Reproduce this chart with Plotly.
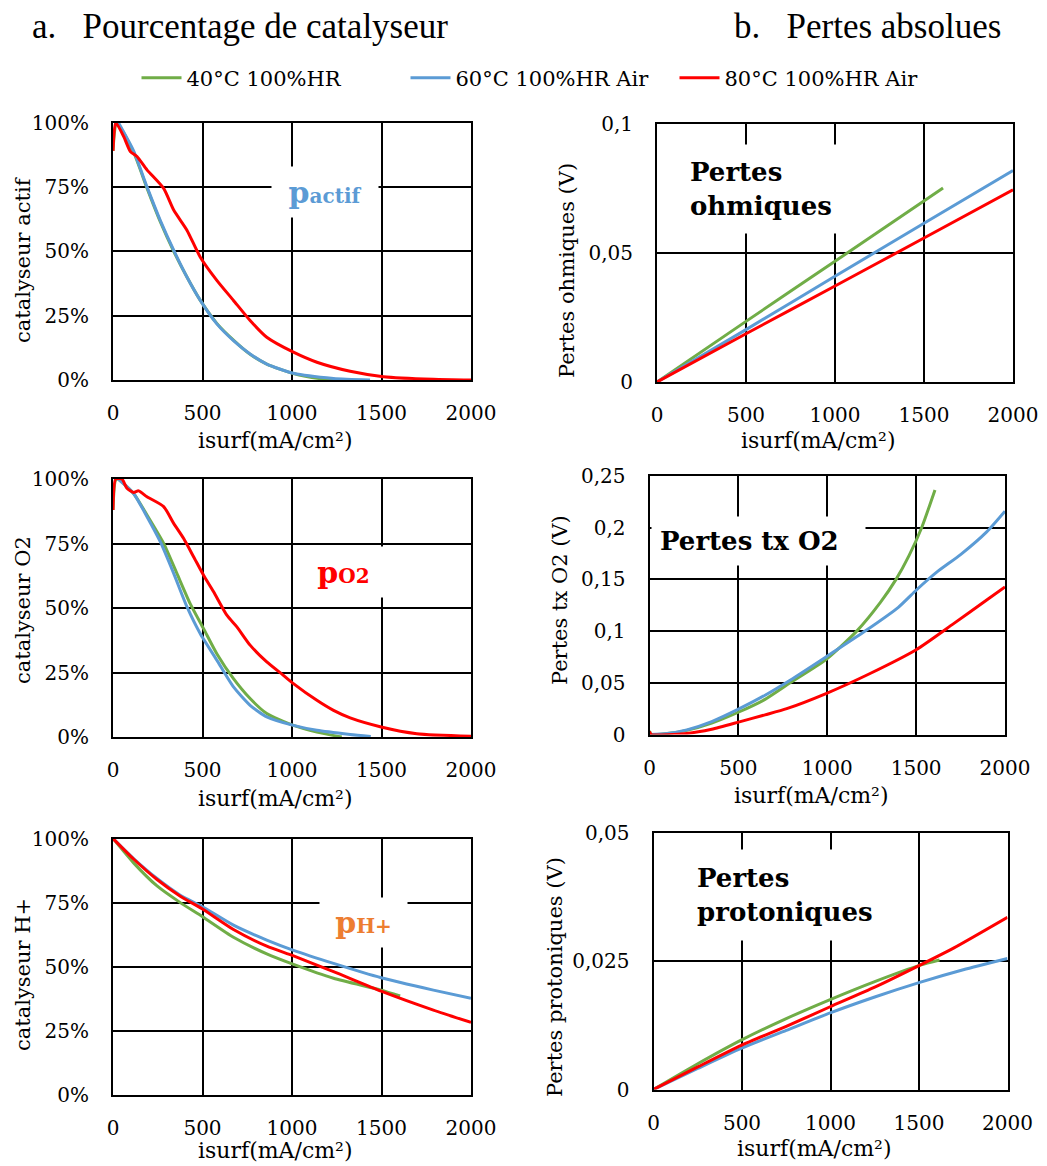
import plotly.graph_objects as go

# The page body keeps an 8px default margin, so the figure is drawn 8px in;
# all pixel positions below are reference-image pixels, converted with that offset.
PAGE_W, PAGE_H = 1047, 1166
OFF = 8
W, H = PAGE_W - OFF, PAGE_H - OFF
FONT = "DejaVu Serif"

# ---------------- data ----------------
series_names = ["40°C 100%HR", "60°C 100%HR Air", "80°C 100%HR Air"]
series_colors = ["#70AD47", "#5B9BD5", "#FF0000"]

# a1 : catalyseur actif (%)
actif_x_40 = [0, 20, 115, 190, 264, 339, 413, 487, 580, 673, 766, 859, 1008, 1150, 1270]
actif_y_40 = [89, 100, 88.5, 74.5, 61.5, 50, 40, 31, 22, 15.5, 10, 6.2, 2.5, 0.6, 0]
actif_x_60 = [30, 115, 190, 264, 339, 413, 487, 580, 673, 766, 859, 1008, 1232, 1436]
actif_y_60 = [100, 89, 75, 62, 50.4, 40, 31, 21.8, 15.3, 10.1, 6.2, 2.6, 0.6, 0]
actif_x_80 = [0, 15, 60, 97, 134, 190, 283, 339, 413, 487, 580, 673, 766, 859, 1008, 1139, 1325, 1511, 1790, 2000]
actif_y_80 = [89, 100, 94.5, 88.7, 86.8, 81.6, 74.4, 66, 58.2, 47.8, 38.7, 30.9, 23.1, 16.6, 10.8, 6.9, 3.4, 1.3, 0.3, 0]

# a2 : catalyseur O2 (%)
o2_x_40 = [0, 20, 115, 190, 283, 357, 431, 506, 580, 673, 766, 859, 1008, 1139, 1278]
o2_y_40 = [88, 100, 94.4, 86, 75, 63.4, 51.7, 42, 32.3, 22.6, 14.9, 9.1, 4.5, 1.9, 0]
o2_x_60 = [30, 115, 190, 264, 339, 413, 487, 580, 673, 766, 859, 1008, 1139, 1325, 1440]
o2_y_60 = [100, 94.4, 85.4, 75.7, 63.4, 50.5, 40.1, 29.8, 19.4, 12.3, 7.8, 4.5, 2.6, 1.0, 0.2]
o2_x_80 = [0, 15, 50, 78, 115, 143, 190, 283, 339, 394, 450, 506, 562, 636, 692, 766, 859, 952, 1008, 1139, 1232, 1325, 1498, 1697, 2000]
o2_y_80 = [88, 100, 100, 96.4, 94.8, 95.4, 93.1, 89.3, 82.8, 77, 69.9, 62.7, 56.3, 47.2, 42.7, 35.6, 29.1, 23.9, 20.7, 14.2, 10.3, 7.4, 3.9, 1.3, 0.3]

# a3 : catalyseur H+ (%)
h_x_40 = [0, 115, 246, 376, 500, 673, 859, 1005, 1232, 1498, 1604]
h_y_40 = [100, 90.5, 81.5, 75, 69.5, 61.5, 55, 51, 45.5, 40.9, 38.6]
h_x_60 = [0, 115, 246, 376, 500, 673, 859, 1005, 1232, 1498, 1790, 2000]
h_y_60 = [100, 92.2, 84.4, 77.9, 73.4, 66.2, 60.4, 56.5, 51.3, 45.7, 40.9, 37.7]
h_x_80 = [0, 115, 246, 376, 500, 673, 859, 1005, 1232, 1498, 1790, 2000]
h_y_80 = [100, 92, 84, 77.5, 72.5, 64.5, 58, 54.3, 48.1, 40.5, 33.1, 28.3]

# b1 : pertes ohmiques (V)
ohm_x_40 = [0, 500, 1000, 1607]
ohm_y_40 = [0, 0.0235, 0.0468, 0.0752]
ohm_x_60 = [0, 500, 1000, 1500, 2000]
ohm_y_60 = [0, 0.0203, 0.041, 0.0615, 0.082]
ohm_x_80 = [0, 500, 1000, 1500, 2000]
ohm_y_80 = [0, 0.0187, 0.0372, 0.0558, 0.0745]

# b2 : pertes transport O2 (V)
tx_x_40 = [0, 10, 100, 210, 350, 506, 650, 791, 993, 1166, 1300, 1387, 1460, 1531, 1606]
tx_y_40 = [0.0035, 0, 0.001, 0.004, 0.011, 0.022, 0.034, 0.05, 0.0725, 0.1, 0.128, 0.15, 0.173, 0.2, 0.2365]
tx_x_60 = [0, 100, 210, 350, 506, 650, 791, 993, 1213, 1400, 1503, 1616, 1750, 1897, 2000]
tx_y_60 = [0, 0.001, 0.0045, 0.0125, 0.025, 0.038, 0.0525, 0.075, 0.1, 0.123, 0.14, 0.157, 0.174, 0.196, 0.216]
tx_x_80 = [0, 10, 210, 350, 506, 650, 772, 993, 1241, 1500, 1709, 1897, 2000]
tx_y_80 = [0.003, 0, 0.001, 0.005, 0.0122, 0.019, 0.025, 0.0396, 0.059, 0.082, 0.107, 0.13, 0.1427]

# b3 : pertes protoniques (V)
prot_x_40 = [0, 250, 495, 750, 998, 1250, 1507, 1616]
prot_y_40 = [0, 0.005, 0.0096, 0.0138, 0.0175, 0.021, 0.0242, 0.0252]
prot_x_60 = [0, 250, 495, 750, 998, 1250, 1500, 1750, 2000]
prot_y_60 = [0, 0.0041, 0.008, 0.0115, 0.0149, 0.018, 0.0208, 0.0233, 0.0255]
prot_x_80 = [0, 250, 495, 750, 998, 1250, 1500, 1695, 2000]
prot_y_80 = [0, 0.0044, 0.0086, 0.0123, 0.0161, 0.0199, 0.0241, 0.0275, 0.0335]

x_ticks = [0, 500, 1000, 1500, 2000]
pct_ticks = [0, 25, 50, 75, 100]
pct_labels = ["0%", "25%", "50%", "75%", "100%"]
ohm_ticks = [0, 0.05, 0.1]
ohm_labels = ["0", "0,05", "0,1"]
tx_ticks = [0, 0.05, 0.1, 0.15, 0.2, 0.25]
tx_labels = ["0", "0,05", "0,1", "0,15", "0,2", "0,25"]
prot_ticks = [0, 0.025, 0.05]
prot_labels = ["0", "0,025", "0,05"]

x_title = "isurf(mA/cm²)"

# ---------------- layout helpers ----------------
def px(x):
    return (x - OFF) / W

def py(y):
    return 1 - (y - OFF) / H

panels = [
    dict(data=[(actif_x_40, actif_y_40), (actif_x_60, actif_y_60), (actif_x_80, actif_y_80)],
         ticks=pct_ticks, labels=pct_labels, rng=[0, 100], box=(113, 471, 122.5, 380),
         ytitle="catalyseur actif"),
    dict(data=[(ohm_x_40, ohm_y_40), (ohm_x_60, ohm_y_60), (ohm_x_80, ohm_y_80)],
         ticks=ohm_ticks, labels=ohm_labels, rng=[0, 0.1], box=(657, 1013, 124, 382),
         ytitle="Pertes ohmiques (V)"),
    dict(data=[(o2_x_40, o2_y_40), (o2_x_60, o2_y_60), (o2_x_80, o2_y_80)],
         ticks=pct_ticks, labels=pct_labels, rng=[0, 100], box=(113, 471, 479, 737),
         ytitle="catalyseur O2"),
    dict(data=[(tx_x_40, tx_y_40), (tx_x_60, tx_y_60), (tx_x_80, tx_y_80)],
         ticks=tx_ticks, labels=tx_labels, rng=[0, 0.25], box=(649.5, 1005, 476, 734.5),
         ytitle="Pertes tx O2 (V)"),
    dict(data=[(h_x_40, h_y_40), (h_x_60, h_y_60), (h_x_80, h_y_80)],
         ticks=pct_ticks, labels=pct_labels, rng=[0, 100], box=(113, 471, 838.5, 1095),
         ytitle="catalyseur H+"),
    dict(data=[(prot_x_40, prot_y_40), (prot_x_60, prot_y_60), (prot_x_80, prot_y_80)],
         ticks=prot_ticks, labels=prot_labels, rng=[0, 0.05], box=(653.5, 1007.5, 832.5, 1089.5),
         ytitle="Pertes protoniques (V)"),
]

fig = go.Figure()
layout = dict(
    width=W, height=H,
    margin=dict(l=0, r=0, t=0, b=0, autoexpand=False),
    paper_bgcolor="white", plot_bgcolor="white",
    font=dict(family=FONT, size=20, color="black"),
    showlegend=True,
    legend=dict(orientation="h", x=px(540), xanchor="center", y=py(78), yanchor="middle",
                font=dict(family=FONT, size=21, color="black"),
                bgcolor="rgba(0,0,0,0)", entrywidth=214, entrywidthmode="pixels",
                itemwidth=40, traceorder="normal"),
)

annotations = []
for i, p in enumerate(panels):
    n = i + 1
    xa = "x" if n == 1 else f"x{n}"
    ya = "y" if n == 1 else f"y{n}"
    l, r, t, b = p["box"]
    for j, (xs, ys) in enumerate(p["data"]):
        fig.add_trace(go.Scatter(
            x=xs, y=ys, mode="lines", name=series_names[j],
            line=dict(color=series_colors[j], width=3, shape="spline", smoothing=0.6),
            legendgroup=series_names[j], showlegend=(i == 0),
            xaxis=xa, yaxis=ya, hoverinfo="skip"))
    axis_common = dict(showgrid=True, gridcolor="black", gridwidth=1.5,
                       showline=True, linecolor="black", linewidth=2, mirror=True,
                       zeroline=False, ticks="", tickfont=dict(family=FONT, size=20, color="black"))
    layout["xaxis" if n == 1 else f"xaxis{n}"] = dict(
        domain=[px(l), px(r)], anchor=ya, range=[0, 2000],
        tickvals=x_ticks, ticktext=[str(v) for v in x_ticks],
        ticklabelstandoff=14, **axis_common)
    layout["yaxis" if n == 1 else f"yaxis{n}"] = dict(
        domain=[py(b), py(t)], anchor=xa, range=p["rng"],
        tickvals=p["ticks"], ticktext=p["labels"],
        ticklabelstandoff=18, **axis_common)

# axis titles as text
ytitle_pos = [(23, 260), (567, 271), (23, 610), (560, 600), (23, 975), (555, 977)]
xtitle_pos = [(275, 440), (818, 440), (275, 798), (811, 795), (275, 1150), (814, 1148)]
for p, (yx, yy), (xx, xy) in zip(panels, ytitle_pos, xtitle_pos):
    annotations.append(dict(text=p["ytitle"], x=px(yx), y=py(yy), xref="paper", yref="paper",
                            showarrow=False, textangle=-90, xanchor="center", yanchor="middle",
                            font=dict(family=FONT, size=21, color="black")))
    annotations.append(dict(text=x_title, x=px(xx), y=py(xy), xref="paper", yref="paper",
                            showarrow=False, xanchor="center", yanchor="middle",
                            font=dict(family=FONT, size=22, color="black")))

# section titles
annotations.append(dict(text="a.   Pourcentage de catalyseur", x=px(30), y=py(27), xref="paper", yref="paper",
                        showarrow=False, xanchor="left", yanchor="middle",
                        font=dict(family="Liberation Serif", size=35, color="black")))
annotations.append(dict(text="b.   Pertes absolues", x=px(732), y=py(27), xref="paper", yref="paper",
                        showarrow=False, xanchor="left", yanchor="middle",
                        font=dict(family="Liberation Serif", size=35, color="black")))

# in-plot labels with white boxes
def label(text, cx, cy, w, h, color, size, pad, align="left"):
    annotations.append(dict(text=text, x=px(cx), y=py(cy), xref="paper", yref="paper",
                            showarrow=False, xanchor="center", yanchor="middle", align=align,
                            width=w, height=h, bgcolor="white", borderpad=pad,
                            font=dict(family=FONT, size=size, color=color)))

label("<b>p<span style='font-size:20px'>actif</span></b>", 325, 192, 96, 40, "#5B9BD5", 30, 5, "center")
label("<b>p<span style='font-size:20px'>O2</span></b>", 343.5, 572, 75, 40, "#FF0000", 30, 5, "center")
label("<b>p<span style='font-size:20px'>H+</span></b>", 363.5, 922.5, 77, 39, "#ED7D31", 30, 5, "center")
label("<b>Pertes<br>ohmiques</b>", 765, 189, 150, 72, "black", 26, 8)
label("<b>Pertes tx O2</b>", 758.5, 541, 197, 32, "black", 26, 8)
label("<b>Pertes<br>protoniques</b>", 789, 895, 184, 74, "black", 26, 8)

layout["annotations"] = annotations
fig.update_layout(**layout)
fig.write_html("out.html")
